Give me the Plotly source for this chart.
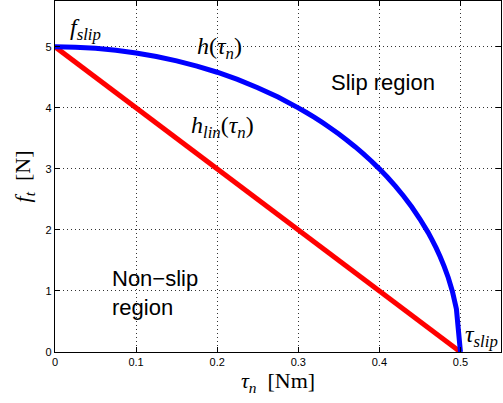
import plotly.graph_objects as go

# Slip boundary h(tau_n): normal torque [Nm] vs. tangential force limit [N]
tau_curve = [0.0, 0.025, 0.05, 0.075, 0.1, 0.125, 0.15, 0.175, 0.2, 0.225, 0.25, 0.275,
             0.3, 0.31, 0.32, 0.33, 0.34, 0.35, 0.36, 0.37, 0.38, 0.39, 0.4, 0.41,
             0.42, 0.43, 0.44, 0.45, 0.46, 0.465, 0.47, 0.475, 0.48, 0.485, 0.49, 0.495, 0.5]
h_curve = [5.0, 4.994, 4.975, 4.943, 4.899, 4.841, 4.770, 4.684, 4.583, 4.465, 4.330, 4.176,
           4.0, 3.923, 3.842, 3.756, 3.666, 3.571, 3.470, 3.363, 3.250, 3.129, 3.0, 2.862,
           2.713, 2.551, 2.375, 2.179, 1.960, 1.838, 1.706, 1.561, 1.4, 1.216, 0.995, 0.705, 0.0]

# Linear approximation h_lin(tau_n)
tau_lin = [0.0, 0.5]
h_lin = [5.0, 0.0]

x_ticks = [0, 0.1, 0.2, 0.3, 0.4, 0.5]
x_tick_text = ["0", "0.1", "0.2", "0.3", "0.4", "0.5"]
y_ticks = [0, 1, 2, 3, 4, 5]
y_tick_text = ["0", "1", "2", "3", "4", "5"]

SANS = "Liberation Sans, Arial, Helvetica, sans-serif"
SERIF = "Liberation Serif, Times New Roman, serif"

fig = go.Figure()
fig.add_trace(go.Scatter(x=tau_lin, y=h_lin, mode="lines",
                         line=dict(color="#ff0000", width=5), showlegend=False))
fig.add_trace(go.Scatter(x=tau_curve, y=h_curve, mode="lines",
                         line=dict(color="#0000ff", width=5, simplify=False),
                         showlegend=False))

math_font = dict(family=SERIF, size=24, color="black")
text_font = dict(family=SANS, size=22, color="black")

annotations = [
    dict(x=0.037, y=5.29, text="<i>f</i><sub><i>slip</i></sub>", font=math_font),
    dict(x=0.203, y=4.98, text="<i>h</i>(<i>τ</i><sub><i>n</i></sub>)", font=math_font),
    dict(x=0.206, y=3.69, text="<i>h</i><sub><i>lin</i></sub>(<i>τ</i><sub><i>n</i></sub>)", font=math_font),
    dict(x=0.404, y=4.41, text="Slip region", font=text_font),
    dict(x=0.068, y=0.967, text="Non−slip<br>region", font=text_font, xanchor="left", align="left"),
    dict(x=0.526, y=0.26, text="<i>τ</i><sub><i>slip</i></sub>", font=math_font),
]
for a in annotations:
    a.setdefault("xanchor", "center")
    a.update(xref="x", yref="y", yanchor="middle", showarrow=False)
    fig.add_annotation(**a)

axis_common = dict(
    showline=True, linecolor="black", linewidth=1.2, mirror="ticks",
    ticks="inside", ticklen=5, tickcolor="black", tickwidth=1,
    showgrid=True, gridcolor="rgba(0,0,0,0.8)", gridwidth=1, griddash="1px,3px",
    zeroline=False, tickfont=dict(family=SANS, size=11, color="black"),
)

fig.update_xaxes(range=[0, 0.55], tickvals=x_ticks, ticktext=x_tick_text,
                 title=dict(text="<i>τ</i><sub><i>n</i></sub>  [Nm]",
                            font=dict(family=SERIF, size=22, color="black"), standoff=5),
                 **axis_common)
fig.update_yaxes(range=[0, 5.75], tickvals=y_ticks, ticktext=y_tick_text,
                 title=dict(text="<i>f</i><sub><i>t</i></sub>  [N]",
                            font=dict(family=SERIF, size=22, color="black"), standoff=8),
                 **axis_common)

fig.update_layout(
    width=503, height=403,
    margin=dict(l=55, r=2, t=1, b=51),
    plot_bgcolor="white", paper_bgcolor="white",
)

fig.write_html("out.html")
